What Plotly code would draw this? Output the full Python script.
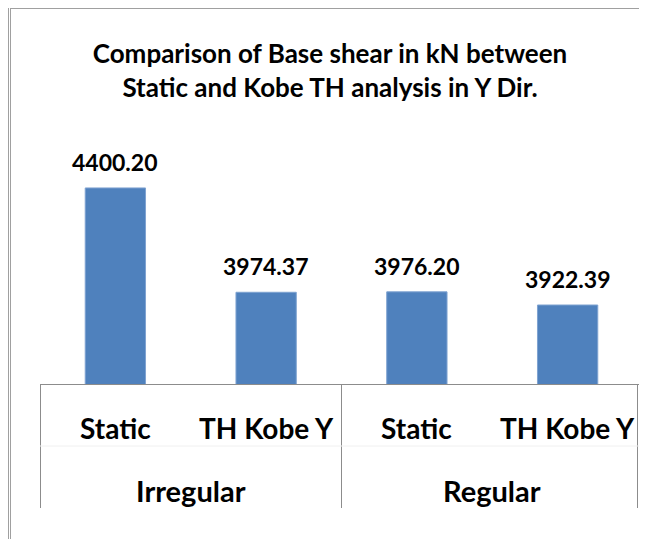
import plotly.graph_objects as go

groups = ["Irregular", "Irregular", "Regular", "Regular"]
analysis = ["Static", "TH Kobe Y", "Static", "TH Kobe Y"]
base_shear = [4400.20, 3974.37, 3976.20, 3922.39]

keys = [f"{g} | {a}" for g, a in zip(groups, analysis)]

font = "Lato"
grey = "#8c8c8c"
H = 245  # plot height in px
W = 603  # plot width in px
OFF = 8  # page body margin
FIG_H = 547 - 2 * OFF

fig = go.Figure(
    go.Bar(
        x=keys,
        y=base_shear,
        marker=dict(color="#4f81bd", line=dict(color="#7fa3d1", width=1)),
        width=0.4,
        cliponaxis=False,
    )
)

# data labels
for k, v in zip(keys, base_shear):
    fig.add_annotation(x=k, y=v, xref="x", yref="y", text=f"{v:.2f}",
                       showarrow=False, yanchor="middle", yshift=26,
                       font=dict(family=font, size=23, color="black", weight="bold"))

fig.update_layout(
    width=647 - OFF,
    height=FIG_H,
    margin=dict(l=40 - OFF, r=4, t=139 - OFF, b=FIG_H - (384 - OFF)),
    paper_bgcolor="white",
    plot_bgcolor="white",
    showlegend=False,
    title=dict(
        text="Comparison of Base shear in kN between<br>Static and Kobe TH analysis in Y Dir.",
        x=(330 - OFF) / (647 - OFF),
        xanchor="center",
        y=1 - (63 - OFF) / FIG_H,
        yanchor="middle",
        font=dict(family=font, size=26, color="black", weight="bold"),
    ),
    xaxis=dict(
        type="category",
        showline=True,
        linecolor=grey,
        linewidth=1,
        showticklabels=False,
        ticks="",
        showgrid=False,
        automargin=False,
        range=[-0.5, len(keys) - 0.5],
    ),
    yaxis=dict(
        range=[3600, 4600],
        visible=False,
        showgrid=False,
        zeroline=False,
        automargin=False,
    ),
)


# page coords -> paper
def px_x(x):
    return (x - 40) / W


def px_y(y):
    return (384 - y) / H


# category labels (first level)
for i, a in enumerate(analysis):
    fig.add_annotation(x=i, y=px_y(428), xref="x", yref="paper",
                       text=a, showarrow=False, yanchor="middle",
                       font=dict(family=font, size=28, color="black", weight="bold"))

# group labels (second level) + dividers
bounds = [-0.5]
for g in dict.fromkeys(groups):
    idx = [i for i, gg in enumerate(groups) if gg == g]
    fig.add_annotation(x=(idx[0] + idx[-1]) / 2, y=px_y(490), xref="x", yref="paper",
                       text=g, showarrow=False, yanchor="middle",
                       font=dict(family=font, size=29, color="black", weight="bold"))
    bounds.append(idx[-1] + 0.5)

for b in bounds:
    xb = (b + 0.5) / len(keys)
    xb = min(max(xb, 0.5 / W), px_x(637.5))
    fig.add_shape(type="line", xref="paper", yref="paper", x0=xb, x1=xb,
                  y0=0, y1=px_y(508), line=dict(color=grey, width=1))
fig.add_shape(type="line", xref="paper", yref="paper", x0=0, x1=1,
              y0=px_y(446), y1=px_y(446), line=dict(color="#f0f0f0", width=1))

# chart borders
for x0 in [8.5, 10.5]:
    fig.add_shape(type="line", xref="paper", yref="paper",
                  x0=px_x(x0), x1=px_x(x0), y0=px_y(547), y1=px_y(8),
                  line=dict(color="#a0a0a0", width=1))
fig.add_shape(type="line", xref="paper", yref="paper",
              x0=px_x(10.5), x1=px_x(647), y0=px_y(8.5), y1=px_y(8.5),
              line=dict(color="#a0a0a0", width=1))

fig.write_html("out.html")
